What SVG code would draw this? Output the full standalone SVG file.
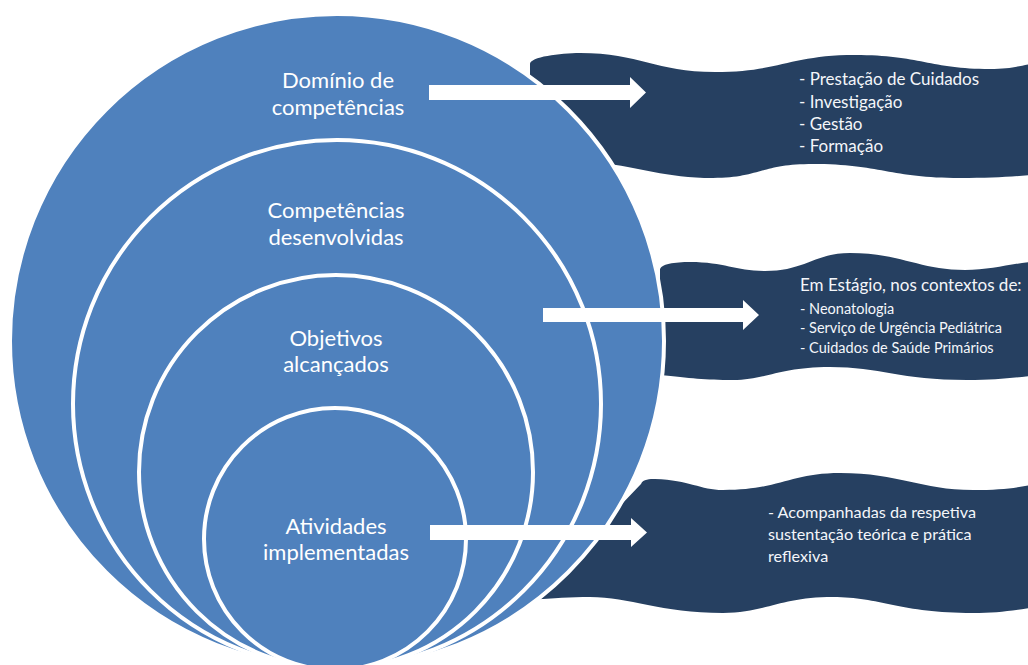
<svg xmlns="http://www.w3.org/2000/svg" width="1028" height="665" viewBox="0 0 1028 665">
<style>
.ring{fill:#4F81BD;stroke:#FFFFFF;stroke-width:4}
.banner{fill:#264061}
.lbl{font-family:Lato,"Liberation Sans",sans-serif;font-size:22px;fill:#FFFFFF;text-anchor:middle}
.txt{font-family:Lato,"Liberation Sans",sans-serif;font-size:17px;fill:#F4F6FA}
.sm{font-size:14.5px}
.b3{font-size:16.2px}
.arrow{fill:#FFFFFF}
</style>
<rect width="1028" height="665" fill="#FFFFFF"/>
<g id="banner-1">
<path class="banner" d="M 530,64 C 530,57 560,53 580,53 C 640,53 655,72 715,72 C 780,72 790,55 855,55 C 920,55 930,69 990,69 C 1010,69 1020,66 1030,64 L 1030,175 C 1010,177 990,178 960,178 C 890,178 880,164 813,164 C 760,164 760,178 713,178 C 665,178 640,167 600,163 L 530,160 Z"/>
<text class="txt" x="799" y="85">- Prestação de Cuidados</text>
<text class="txt" x="799" y="108">- Investigação</text>
<text class="txt" x="799" y="130">- Gestão</text>
<text class="txt" x="799" y="152">- Formação</text>
</g>
<g id="banner-2">
<path class="banner" d="M 660,270 C 660,264 675,262 690,262 C 725,262 735,271 765,271 C 805,271 815,253 850,253 C 900,253 920,270 965,270 C 990,270 1010,264 1030,262 L 1030,376 C 1010,378 995,380 967,380 C 900,380 880,367 830,367 C 780,367 765,380 733,380 C 705,380 690,378 660,375 Z"/>
<text class="txt" x="800" y="291">Em Estágio, nos contextos de:</text>
<text class="txt sm" x="800" y="314">- Neonatologia</text>
<text class="txt sm" x="800" y="333">- Serviço de Urgência Pediátrica</text>
<text class="txt sm" x="800" y="353">- Cuidados de Saúde Primários</text>
</g>
<g id="banner-3">
<path class="banner" d="M 641,484 C 643,479 650,479 655,479 C 690,480 700,490 723,490 C 780,490 790,473 840,473 C 900,473 920,490 973,490 C 1000,490 1015,488 1030,485 L 1030,608 C 1010,611 995,613 973,613 C 900,613 880,597 833,597 C 780,597 765,613 723,613 C 660,613 630,597 590,597 C 570,597 555,598 530,600 Z"/>
<text class="txt b3" x="768" y="518">- Acompanhadas da respetiva</text>
<text class="txt b3" x="768" y="540">sustentação teórica e prática</text>
<text class="txt b3" x="768" y="562">reflexiva</text>
</g>
<g id="circle-dominio">
<circle class="ring" cx="337" cy="341" r="327"/>
<text class="lbl" x="338" y="88">Domínio de</text>
<text class="lbl" x="338" y="115">competências</text>
</g>
<g id="circle-competencias">
<circle class="ring" cx="337" cy="404" r="264"/>
<text class="lbl" x="336" y="218">Competências</text>
<text class="lbl" x="336" y="245">desenvolvidas</text>
</g>
<g id="circle-objetivos">
<circle class="ring" cx="336" cy="472" r="197"/>
<text class="lbl" x="336" y="346">Objetivos</text>
<text class="lbl" x="336" y="372">alcançados</text>
</g>
<g id="circle-atividades">
<circle class="ring" cx="335" cy="539" r="131"/>
<text class="lbl" x="336" y="534">Atividades</text>
<text class="lbl" x="336" y="560">implementadas</text>
</g>
<g id="connectors">
<polygon class="arrow" points="429,85 630,85 630,77 646,92.5 630,108 630,100 429,100"/>
<polygon class="arrow" points="543,308 743,308 743,300 759,315 743,330 743,322 543,322"/>
<polygon class="arrow" points="430,525 631,525 631,518 647,532.5 631,547 631,540 430,540"/>
</g>
</svg>
